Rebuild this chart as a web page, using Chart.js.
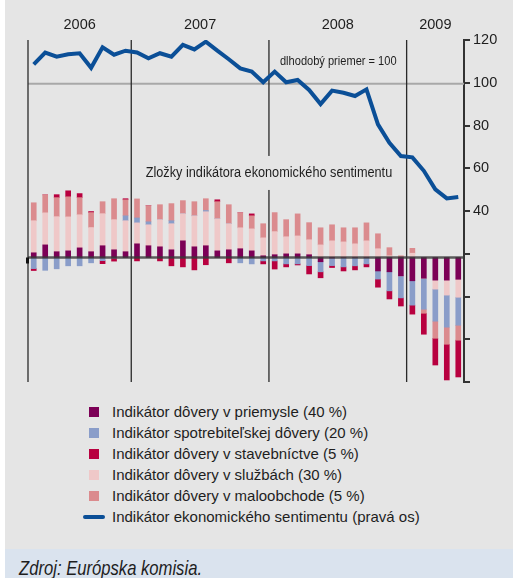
<!DOCTYPE html>
<html lang="sk"><head><meta charset="utf-8">
<script src="https://cdn.jsdelivr.net/npm/chart.js@4.4.1/dist/chart.umd.min.js"></script>
<style>
html,body{margin:0;padding:0;background:#fff;width:514px;height:578px;overflow:hidden;}
#panel{position:absolute;left:5px;top:0;width:508px;height:549px;background:#e5e5e5;}
#foot{position:absolute;left:5px;top:549px;width:508px;height:29px;background:#dae3ee;overflow:hidden;}
#src{position:absolute;left:14px;top:8.5px;font-style:italic;font-size:20.3px;line-height:20px;color:#1e1e1e;white-space:nowrap;transform-origin:left top;}
#wrap{position:absolute;left:0;top:0;width:514px;height:400px;}
#legend{position:absolute;left:83px;top:401px;font:15px "Liberation Sans",Arial,sans-serif;color:#1e1e1e;}
.item{height:21px;line-height:21px;position:relative;padding-left:29px;white-space:nowrap;}
.sw{position:absolute;left:6px;top:6px;width:10px;height:10px;}
.ln{position:absolute;left:0;top:9px;width:22px;height:4px;border-radius:2px;}
</style></head>
<body>
<div id="panel"></div>
<div id="foot"><div id="src">Zdroj: Európska komisia.</div></div>
<div id="wrap"><canvas id="c" width="514" height="400"></canvas></div>
<div id="legend"></div>
<script>
// ---- data ----
const months = ['2006-04','2006-05','2006-06','2006-07','2006-08','2006-09','2006-10','2006-11','2006-12',
  '2007-01','2007-02','2007-03','2007-04','2007-05','2007-06','2007-07','2007-08','2007-09','2007-10','2007-11','2007-12',
  '2008-01','2008-02','2008-03','2008-04','2008-05','2008-06','2008-07','2008-08','2008-09','2008-10','2008-11','2008-12',
  '2009-01','2009-02','2009-03','2009-04','2009-05'];
const years = ['2006','2007','2008','2009'];
const esi = [108.6,114.1,112.2,113.3,113.8,107.0,116.6,113.1,115.0,
  114.2,111.4,113.8,112.2,117.7,115.6,119.2,115.0,111.0,106.7,105.2,100.2,
  105.2,100.2,101.3,96.6,90.0,96.3,95.3,93.8,96.9,80.5,71.9,65.7,
  65.1,58.8,50.1,45.9,46.6];
const industry = [2.2,5.9,2.7,3.1,4.5,2.7,5.5,3.6,2.7,
  6.4,5.5,5.0,3.6,7.8,5.0,5.5,3.1,3.6,4.1,3.1,0.8,
  1.3,1.7,1.7,1.3,-2.0,-0.2,0,0,0,-6.3,-6.7,-8.6,
  -10.9,-9.7,-10.6,-10.6,-10.2];
const consumer = [-5.2,-6.0,-5.3,-3.9,-3.9,-2.5,-1.5,-0.3,2.3,
  2.3,1.4,0,1.4,0,0,0.6,0,0,-2.5,-3.0,-1.6,
  -1.6,-3.0,-3.0,-3.8,-4.7,-3.6,-4.4,-3.9,-3.0,-3.8,-8.9,-10.3,
  -11.4,-14.5,-15.0,-15.0,-13.1];
const construction = [-0.9,0,1.4,2.8,1.9,0.5,-1.4,-1.4,0.5,
  -1.6,0,-1.6,-3.9,-4.4,-5.8,-3.4,0.9,-2.5,0,0.9,-1.4,
  -3.8,-1.4,-0.5,-3.9,-2.8,-0.9,-1.9,-1.9,-1.4,-3.8,-3.8,-3.8,
  -4.2,-9.8,-12.5,-16.7,-17.2];
const services = [15.0,15.0,16.4,15.9,15.5,11.3,15.0,14.1,14.5,
  9.8,9.8,12.7,12.2,12.7,14.5,15.9,15.0,12.2,9.8,10.3,8.4,
  10.8,8.0,8.4,7.0,5.9,7.8,7.3,6.4,7.8,4.1,0.8,0,
  2.0,0,-4.2,-7.0,-8.4];
const retail = [8.4,8.4,8.9,9.4,8.0,7.0,5.6,9.8,7.5,
  8.9,7.5,7.0,8.0,6.1,6.6,5.5,8.0,8.9,7.0,6.1,6.6,
  8.9,8.0,10.3,8.0,8.0,7.5,6.6,7.5,8.4,7.0,3.8,0.8,
  2.3,-1.9,-8.0,-8.0,-7.0];
const rightTicksShown = [120,100,80,60,40];
const seriesNames = {
  industry:'Indikátor dôvery v priemysle (40 %)',
  consumer:'Indikátor spotrebiteľskej dôvery (20 %)',
  construction:'Indikátor dôvery v stavebníctve (5 %)',
  services:'Indikátor dôvery v službách (30 %)',
  retail:'Indikátor dôvery v maloobchode (5 %)',
  esi:'Indikátor ekonomického sentimentu (pravá os)'
};
const annotationTitle = 'Zložky indikátora ekonomického sentimentu';
const avgLabel = 'dlhodobý priemer = 100';

// ---- styles ----
const C = {industry:'#7c0056', consumer:'#8a9dc9', construction:'#b8003f', services:'#efc8c8', retail:'#db8b8e', esi:'#0b4f97'};
const PANEL = '#e5e5e5';

function hasFont(name){
  const c=document.createElement('canvas').getContext('2d');
  const s='abcdefghijklmnopWWW';
  c.font='40px monospace'; const a=c.measureText(s).width;
  c.font='40px "'+name+'", monospace'; return Math.abs(c.measureText(s).width-a)>0.5;
}
const NARROW = hasFont('Liberation Sans Narrow');
function narrowText(ctx, text, x, y, size, align){
  ctx.save();
  ctx.textAlign = align; ctx.textBaseline = 'middle';
  if (NARROW){ ctx.font = size+'px "Liberation Sans Narrow"'; ctx.fillText(text,x,y); }
  else { ctx.translate(x,y); ctx.scale(0.82,1); ctx.font = size+'px "Liberation Sans", Arial'; ctx.fillText(text,0,0); }
  ctx.restore();
}
function narrowWidth(ctx, text, size){
  ctx.save();
  let w;
  if (NARROW){ ctx.font = size+'px "Liberation Sans Narrow"'; w = ctx.measureText(text).width; }
  else { ctx.font = size+'px "Liberation Sans", Arial'; w = ctx.measureText(text).width*0.82; }
  ctx.restore(); return w;
}
const src = document.getElementById('src');
if (NARROW) src.style.fontFamily = '"Liberation Sans Narrow"';
else { src.style.fontFamily = '"Liberation Sans", Arial'; src.style.transform = 'scaleX(0.82)'; }

// ---- legend (HTML) ----
const legend = document.getElementById('legend');
['industry','consumer','construction','services','retail','esi'].forEach(k=>{
  const d=document.createElement('div'); d.className='item';
  const s=document.createElement('span'); s.className = k==='esi'?'ln':'sw'; s.style.background=C[k];
  d.appendChild(s); d.appendChild(document.createTextNode(seriesNames[k])); legend.appendChild(d);
});

// ---- decorations plugin ----
const deco = {
  id:'deco',
  beforeDatasetsDraw(chart){
    const {ctx, chartArea:a, scales} = chart;
    const x = scales.x, y2 = scales.y2;
    const starts = years.map(yr => months.findIndex(m => m.startsWith(yr)));
    const bx = starts.map(i => i===0 ? a.left : (x.getPixelForValue(i-1)+x.getPixelForValue(i))/2);
    bx.push(a.right);
    ctx.save();
    ctx.strokeStyle='#a8a8a8'; ctx.lineWidth=2;
    const y100 = y2.getPixelForValue(100)+1;
    ctx.beginPath(); ctx.moveTo(a.left,y100); ctx.lineTo(a.right,y100); ctx.stroke();
    ctx.strokeStyle='#2a2a2a'; ctx.lineWidth=1.3;
    for (let k=0;k<years.length;k++){
      ctx.beginPath(); ctx.moveTo(bx[k],a.top); ctx.lineTo(bx[k],a.bottom); ctx.stroke();
    }
    ctx.fillStyle='#1e1e1e'; ctx.font='14.5px "Liberation Sans", Arial'; ctx.textAlign='center'; ctx.textBaseline='middle';
    for (let k=0;k<years.length;k++) ctx.fillText(years[k], (bx[k]+bx[k+1])/2, a.top-15);
    narrowText(ctx, avgLabel, bx[2]+11, y2.getPixelForValue(110.2), 13.5, 'left');
    const tw = narrowWidth(ctx, annotationTitle, 15.5);
    const tx = bx[2], ty = y2.getPixelForValue(57.8);
    ctx.fillStyle=PANEL; ctx.fillRect(tx-tw/2-3, ty-17, tw+6, 34);
    ctx.fillStyle='#1e1e1e';
    narrowText(ctx, annotationTitle, tx, ty, 15.5, 'center');
    ctx.restore();
  },
  afterDatasetsDraw(chart){
    const {ctx, chartArea:a, scales} = chart;
    const y0 = scales.y.getPixelForValue(0);
    ctx.save();
    ctx.strokeStyle='rgba(55,55,55,0.8)'; ctx.lineWidth=2.5;
    ctx.beginPath(); ctx.moveTo(a.left,y0); ctx.lineTo(a.right,y0); ctx.stroke();
    ctx.fillStyle='#111'; ctx.fillRect(a.left-2, y0, 3, 6);
    ctx.restore();
  }
};

const barDs = (key, data) => ({type:'bar', label:seriesNames[key], data, backgroundColor:C[key], borderWidth:0, barThickness:5, yAxisID:'y', stack:'s'});

new Chart(document.getElementById('c'), {
  data:{
    labels: months,
    datasets:[
      {type:'line', label:seriesNames.esi, data:esi, borderColor:C.esi, borderWidth:4, pointRadius:0, tension:0, yAxisID:'y2', borderJoinStyle:'miter'},
      barDs('industry', industry),
      barDs('services', services),
      barDs('consumer', consumer),
      barDs('retail', retail),
      barDs('construction', construction)
    ]
  },
  options:{
    responsive:false, animation:false, devicePixelRatio:1,
    layout:{padding:{left:28, top:40, right:0, bottom:18}},
    plugins:{legend:{display:false}, tooltip:{enabled:false}},
    scales:{
      x:{display:false, stacked:true, offset:true},
      y:{display:false, stacked:true, min:-58.25, max:101.75},
      y2:{position:'right', min:-40, max:120,
        afterFit(s){ s.width = 50; },
        border:{display:true, color:'#333', width:2},
        grid:{drawOnChartArea:false, drawTicks:true, tickLength:6, color:'#333', lineWidth:2},
        ticks:{stepSize:20, padding:3, color:'#1e1e1e', font:{family:'"Liberation Sans", Arial', size:14.5},
          callback:v => rightTicksShown.includes(v) ? String(v) : ''}
      }
    }
  },
  plugins:[deco]
});
</script>
</body></html>
